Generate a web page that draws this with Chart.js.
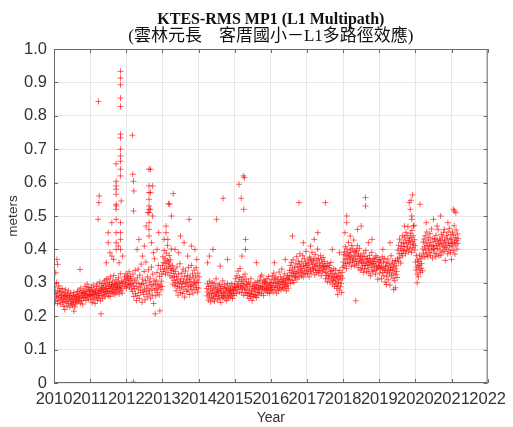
<!DOCTYPE html>
<html>
<head>
<meta charset="utf-8">
<script src="https://cdn.jsdelivr.net/npm/chart.js@4/dist/chart.umd.min.js"></script>
<style>
  html, body { margin: 0; padding: 0; background: #fff; }
  canvas { display: block; }
</style>
</head>
<body>
<canvas id="grafico" width="513" height="427"></canvas>
<script>
// titulos
const titulo = 'KTES-RMS MP1 (L1 Multipath)';
const subtitulo = '(雲林元長　客厝國小－L1多路徑效應)';

// eixo x: anos
const anos = [2010, 2011, 2012, 2013, 2014, 2015, 2016, 2017, 2018, 2019, 2020, 2021, 2022];
const yTicks = [0, 0.1, 0.2, 0.3, 0.4, 0.5, 0.6, 0.7, 0.8, 0.9, 1.0];

// periodo coberto por cada bloco de valores (em anos decimais)
const inicioBloco = [2010.0, 2011.0, 2011.93, 2013.0, 2014.22, 2015.0, 2016.0, 2017.0, 2018.0, 2019.0, 2020.0, 2021.0];
const fimBloco    = [2011.0, 2011.9, 2013.0, 2014.02, 2015.0, 2016.0, 2017.0, 2018.0, 2019.0, 2020.0, 2021.0, 2021.19];

// MP1 RMS (m)
const mp2010 = [.268,.251,.287,.244,.272,.259,.301,.263,.238,.276,.255,.291,.247,.269,.282,
  .257,.236,.274,.262,.249,.283,.241,.266,.253,.229,.271,.258,.245,.279,.262,
  .243,.258,.231,.267,.249,.276,.238,.255,.262,.227,.251,.269,.244,.236,.258,
  .249,.233,.262,.241,.271,.254,.228,.259,.246,.237,.265,.251,.242,.274,.256,
  .261,.245,.278,.252,.267,.239,.284,.258,.247,.271,.263,.236,.276,.254,.268,
  .272,.256,.289,.263,.247,.281,.267,.296,.258,.274,.251,.286,.265,.278,.262];
const mp2011 = [.262,.278,.249,.287,.266,.241,.274,.258,.293,.269,.252,.281,.265,.238,.276,
  .271,.255,.289,.263,.297,.248,.276,.268,.257,.284,.261,.302,.273,.246,.279,
  .276,.291,.262,.284,.253,.298,.271,.287,.265,.306,.279,.258,.293,.274,.311,
  .283,.268,.297,.276,.312,.261,.289,.274,.301,.283,.259,.318,.287,.271,.295,
  .291,.276,.305,.268,.287,.322,.279,.298,.264,.293,.281,.309,.272,.296,.284,
  .288,.302,.273,.315,.286,.267,.298,.281,.327,.292,.276,.305,.284,.269,.299];
const mp2012 = [.302,.318,.289,.311,.296,.327,.284,.308,.321,.293,.314,.299,.333,.287,.306,
  .319,.295,.281,.312,.298,.274,.326,.291,.259,.308,.283,.337,.268,.302,.247,
  .289,.315,.262,.341,.279,.298,.253,.323,.287,.271,.356,.295,.242,.311,.276,
  .298,.265,.334,.281,.249,.307,.362,.273,.291,.258,.318,.284,.339,.267,.302,
  .276,.312,.254,.295,.347,.281,.263,.326,.291,.238,.305,.372,.278,.296,.261,
  .308,.283,.331,.271,.296,.352,.287,.264,.319,.293,.341,.279,.305,.326,.289];
const mp2013 = [.352,.378,.334,.361,.397,.341,.372,.326,.358,.389,.344,.367,.412,.331,.363,
  .348,.382,.356,.321,.369,.343,.401,.337,.315,.352,.296,.328,.341,.307,.319,
  .292,.334,.301,.276,.318,.347,.289,.309,.263,.326,.298,.284,.357,.303,.271,
  .312,.287,.329,.296,.268,.341,.305,.281,.319,.257,.298,.335,.289,.311,.274,
  .301,.322,.278,.346,.293,.309,.265,.317,.288,.303,.352,.281,.296,.327,.269,
  .314,.291,.338,.302,.279,.321,.297,.345,.286,.308,.272,.329,.301,.284,.318];
const mp2014 = [.283,.261,.297,.272,.248,.289,.266,.305,.257,.279,.243,.291,.268,.255,.301,
  .276,.252,.284,.263,.298,.245,.271,.287,.259,.312,.266,.281,.249,.274,.293,
  .261,.278,.253,.296,.269,.284,.241,.275,.262,.289,.256,.306,.271,.258,.283,
  .267,.294,.252,.279,.263,.286,.247,.273,.298,.261,.282,.255,.277,.269,.291,
  .258,.281,.272,.264,.297,.276,.253,.285,.268,.279,.262,.288];
const mp2015 = [.297,.278,.312,.286,.268,.321,.294,.281,.335,.289,.304,.272,.316,.343,.291,
  .285,.309,.271,.298,.282,.318,.293,.263,.305,.279,.326,.288,.269,.311,.296,
  .279,.262,.294,.271,.302,.253,.284,.268,.297,.259,.312,.278,.265,.247,.289,
  .275,.258,.291,.266,.283,.301,.261,.279,.294,.256,.286,.272,.305,.263,.281,
  .292,.271,.306,.284,.318,.289,.268,.323,.281,.299,.287,.262,.309,.278,.301,
  .288,.305,.276,.297,.283,.312,.271,.294,.281,.319,.286,.268,.301,.292,.277];
const mp2016 = [.297,.281,.309,.288,.321,.272,.301,.329,.286,.312,.279,.298,.317,.291,.269,
  .305,.287,.311,.276,.298,.332,.284,.302,.293,.318,.279,.309,.341,.286,.304,
  .295,.314,.282,.301,.327,.289,.308,.296,.276,.313,.291,.322,.299,.284,.311,
  .318,.337,.309,.352,.298,.331,.361,.322,.341,.307,.369,.328,.301,.346,.319,
  .334,.316,.357,.329,.378,.311,.348,.326,.365,.338,.318,.356,.387,.331,.349,
  .342,.321,.363,.335,.381,.317,.351,.329,.372,.344,.326,.359,.394,.336,.353];
const mp2017 = [.351,.327,.368,.339,.359,.318,.377,.346,.334,.371,.329,.362,.391,.343,.355,
  .366,.338,.372,.349,.324,.385,.341,.357,.331,.368,.352,.401,.337,.373,.329,
  .347,.362,.336,.381,.351,.321,.369,.344,.358,.333,.376,.348,.339,.364,.352,
  .331,.312,.349,.322,.341,.303,.358,.327,.314,.346,.321,.352,.302,.334,.361,
  .319,.337,.311,.296,.328,.307,.342,.316,.289,.324,.305,.338,.297,.319,.283,
  .312,.291,.329,.301,.318,.278,.337,.309,.288,.321,.298,.271,.331,.314,.346];
const mp2018 = [.362,.384,.351,.393,.372,.408,.358,.381,.343,.401,.369,.389,.357,.421,.378,
  .383,.361,.398,.372,.391,.349,.412,.377,.363,.402,.368,.428,.381,.352,.394,
  .371,.389,.356,.397,.364,.411,.378,.346,.386,.359,.403,.372,.338,.381,.366,
  .361,.342,.378,.351,.369,.331,.389,.358,.343,.379,.352,.397,.363,.334,.371,
  .352,.373,.341,.361,.329,.382,.354,.368,.321,.363,.346,.391,.357,.334,.372,
  .358,.337,.371,.349,.364,.326,.381,.353,.339,.376,.344,.311,.362,.347,.369];
const mp2019 = [.351,.329,.368,.342,.359,.312,.347,.378,.331,.344,.362,.321,.373,.338,.302,
  .349,.336,.361,.318,.352,.331,.371,.309,.341,.358,.327,.293,.346,.339,.381,
  .322,.354,.337,.365,.314,.348,.329,.359,.306,.342,.367,.325,.351,.334,.316,
  .372,.398,.364,.412,.387,.431,.376,.402,.359,.421,.388,.409,.441,.381,.397,
  .418,.396,.437,.409,.428,.387,.451,.419,.398,.442,.407,.468,.421,.393,.433,
  .426,.402,.448,.414,.436,.391,.457,.423,.405,.441,.416,.472,.429,.398,.411];
const mp2020 = [.362,.338,.381,.347,.326,.369,.352,.318,.364,.341,.383,.353,.331,.372,.344,
  .358,.379,.336,.401,.422,.389,.431,.408,.377,.441,.398,.419,.386,.452,.411,
  .379,.428,.402,.436,.391,.413,.447,.382,.421,.398,.461,.409,.374,.432,.401,
  .412,.389,.431,.401,.423,.378,.442,.411,.387,.428,.403,.459,.418,.381,.413,
  .431,.398,.426,.383,.445,.416,.392,.437,.408,.419,.451,.394,.428,.406,.367,
  .422,.401,.441,.412,.433,.387,.452,.419,.398,.463,.411,.429,.391,.444,.418];
const mp2021 = [.431,.408,.452,.419,.397,.443,.471,.422,.386,.435,.413,.458,.427,.401,.446,.418,.432];

// pontos isolados (ano, metros)
const outAno = [2010.05,2010.08,2010.1,2010.72,2010.3,2010.55,2011.22,2011.23,2011.24,2011.25,2011.3,
  2011.45,2011.5,2011.5,2011.55,2011.6,2011.6,2011.65,
  2011.72,2011.72,2011.72,2011.72,2011.72,2011.72,2011.72,2011.72,2011.72,2011.72,2011.72,2011.72,
  2011.78,2011.8,
  2011.84,2011.84,2011.84,2011.84,2011.84,2011.84,2011.84,2011.84,2011.84,2011.84,2011.84,2011.84,
  2011.84,2011.84,2011.84,2011.84,2011.86,2011.9,
  2012.17,2012.18,2012.2,2012.21,2012.2,2012.2,2012.3,2012.35,2012.45,2012.5,2012.55,
  2012.6,2012.63,2012.63,2012.63,2012.63,2012.63,2012.63,2012.63,2012.63,2012.63,2012.63,
  2012.67,2012.67,2012.67,2012.7,2012.73,2012.73,2012.75,2012.8,2012.85,2012.9,2012.93,
  2013.05,2013.1,2013.1,2013.15,2013.17,2013.2,2013.25,2013.3,2013.35,2013.45,2013.5,
  2013.6,2013.7,2013.74,2013.8,2013.9,2013.95,
  2014.25,2014.3,2014.4,2014.5,2014.6,2014.68,2014.8,
  2015.12,2015.18,2015.2,2015.24,2015.25,2015.27,2015.3,2015.3,2015.6,
  2016.1,2016.4,2016.6,2016.78,2016.9,2017.1,2017.2,2017.3,2017.51,2017.7,2017.85,2017.9,
  2018.05,2018.1,2018.1,2018.2,2018.35,2018.4,2018.5,2018.62,2018.62,2018.7,2018.8,
  2019.1,2019.2,2019.3,2019.4,2019.45,2019.7,
  2019.83,2019.86,2019.88,2019.9,2019.9,2019.92,2019.95,2020.05,2020.13,
  2020.3,2020.5,2020.6,2020.7,2020.8,2020.9,2021.0,2021.05,2021.08,2021.12];
const outValor = [0.33,0.37,0.355,0.34,0.22,0.215,0.49,0.843,0.54,0.56,0.207,
  0.36,0.42,0.45,0.39,0.38,0.48,0.37,
  0.656,0.604,0.59,0.58,0.565,0.535,0.53,0.52,0.49,0.45,0.42,0.40,
  0.41,0.36,
  0.933,0.913,0.893,0.853,0.828,0.745,0.734,0.70,0.68,0.664,0.64,0.62,
  0.48,0.45,0.43,0.40,0.545,0.38,
  0.742,0.625,0.604,0.575,0.515,0.003,0.40,0.43,0.38,0.41,0.47,
  0.51,0.64,0.59,0.57,0.55,0.53,0.52,0.51,0.48,0.46,0.44,
  0.64,0.57,0.52,0.42,0.59,0.50,0.39,0.207,0.40,0.45,0.216,
  0.43,0.45,0.47,0.43,0.537,0.535,0.50,0.567,0.40,0.39,0.44,
  0.42,0.38,0.49,0.41,0.40,0.37,
  0.36,0.38,0.40,0.49,0.35,0.553,0.37,
  0.595,0.553,0.38,0.62,0.52,0.615,0.43,0.40,0.36,
  0.36,0.37,0.44,0.54,0.42,0.41,0.43,0.45,0.54,0.40,0.265,0.39,
  0.45,0.50,0.48,0.44,0.246,0.46,0.47,0.555,0.53,0.42,0.43,
  0.40,0.295,0.42,0.28,0.285,0.47,
  0.54,0.52,0.547,0.50,0.49,0.563,0.47,0.30,0.535,
  0.48,0.49,0.47,0.50,0.46,0.48,0.37,0.52,0.515,0.51];

const blocos = [mp2010, mp2011, mp2012, mp2013, mp2014, mp2015, mp2016, mp2017, mp2018, mp2019, mp2020, mp2021];

function montarPontos() {
  const pts = [];
  blocos.forEach((vals, b) => {
    const passo = (fimBloco[b] - inicioBloco[b]) / vals.length;
    vals.forEach((v, i) => pts.push({ x: inicioBloco[b] + (i + 0.5) * passo, y: v }));
  });
  outAno.forEach((a, i) => pts.push({ x: a, y: outValor[i] }));
  return pts;
}

// moldura estilo matlab: caixa e ticks para dentro
const moldura = {
  id: 'moldura',
  afterDatasetsDraw(chart) {
    const { ctx, chartArea: a, scales } = chart;
    ctx.save();
    ctx.strokeStyle = '#6a6a6a';
    ctx.lineWidth = 1;
    ctx.strokeRect(a.left + 0.5, a.top + 0.5, a.right - a.left - 1, a.bottom - a.top - 1);
    ctx.beginPath();
    scales.x.ticks.forEach(t => {
      const px = Math.round(scales.x.getPixelForValue(t.value)) + 0.5;
      ctx.moveTo(px, a.bottom); ctx.lineTo(px, a.bottom - 4);
      ctx.moveTo(px, a.top); ctx.lineTo(px, a.top + 4);
    });
    scales.y.ticks.forEach(t => {
      const py = Math.round(scales.y.getPixelForValue(t.value)) + 0.5;
      ctx.moveTo(a.left, py); ctx.lineTo(a.left + 4, py);
      ctx.moveTo(a.right, py); ctx.lineTo(a.right - 4, py);
    });
    ctx.stroke();
    ctx.restore();
  }
};

const fonteEixo = { family: '"Liberation Sans", Arial, sans-serif', size: 16.5 };

const ctx = document.getElementById('grafico').getContext('2d');
const chart = new Chart(ctx, {
  type: 'scatter',
  data: {
    datasets: [{
      label: 'MP1',
      data: montarPontos(),
      pointStyle: 'cross',
      radius: 3,
      borderWidth: 1,
      borderColor: 'rgba(255,0,0,0.62)',
      backgroundColor: 'rgba(255,0,0,0.62)'
    }]
  },
  options: {
    responsive: false,
    animation: false,
    devicePixelRatio: 1,
    layout: { padding: { top: 0, right: 18, left: 0, bottom: 0 } },
    plugins: {
      legend: { display: false },
      tooltip: { enabled: false },
      title: {
        display: true,
        text: titulo,
        fullSize: false,
        color: '#111',
        font: { family: '"Liberation Serif", "Times New Roman", serif', size: 16, weight: 'bold', lineHeight: 1.0 },
        padding: { top: 12, bottom: 0 }
      },
      subtitle: {
        display: true,
        text: subtitulo,
        fullSize: false,
        color: '#111',
        font: { family: '"Liberation Serif", "Noto Sans CJK TC", serif', size: 17, lineHeight: 1.0 },
        padding: { top: 0, bottom: 4 }
      }
    },
    scales: {
      x: {
        type: 'linear',
        min: anos[0],
        max: anos[anos.length - 1],
        afterFit: s => { s.height = 44; },
        afterBuildTicks: s => { s.ticks = anos.map(v => ({ value: v })); },
        ticks: {
          autoSkip: false,
          maxRotation: 0,
          minRotation: 0,
          padding: 7,
          color: '#333',
          font: fonteEixo,
          callback: v => String(v)
        },
        grid: { color: '#e6e6e6', drawTicks: false },
        border: { display: false },
        title: {
          display: true,
          text: 'Year',
          color: '#333',
          font: { family: '"Liberation Sans", Arial, sans-serif', size: 14 },
          padding: { top: 0, bottom: 0 }
        }
      },
      y: {
        min: 0,
        max: 1,
        afterFit: s => { s.width = 54; },
        afterBuildTicks: s => { s.ticks = yTicks.map(v => ({ value: v })); },
        ticks: {
          padding: 7,
          color: '#333',
          font: fonteEixo,
          callback: v => v === 0 ? '0' : v.toFixed(1)
        },
        grid: { color: '#e6e6e6', drawTicks: false },
        border: { display: false },
        title: {
          display: true,
          text: 'meters',
          color: '#333',
          font: { family: '"Liberation Sans", Arial, sans-serif', size: 13.5 },
          padding: { top: 5, bottom: 0 }
        }
      }
    }
  },
  plugins: [moldura]
});
</script>
</body>
</html>
